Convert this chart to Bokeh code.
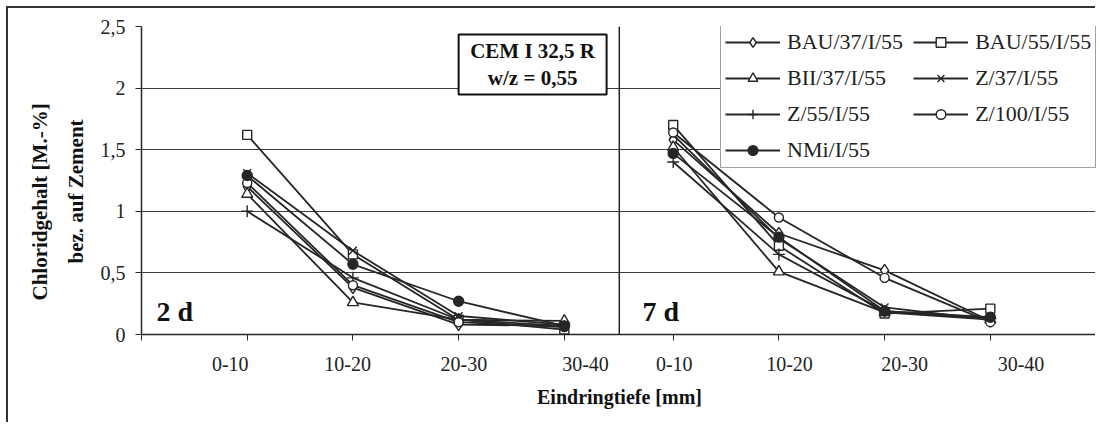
import math
from bokeh.plotting import figure
from bokeh.models import (Range1d, FixedTicker, Legend, LegendItem, Label, Span,
                          BoxAnnotation, Title)
from bokeh.embed import file_html
from bokeh.resources import INLINE

# ---------------- data ----------------
categories = ["0-10", "10-20", "20-30", "30-40"]
panel_names = ["2 d", "7 d"]
series_names = ["BAU/37/I/55", "BAU/55/I/55", "BII/37/I/55", "Z/37/I/55",
                "Z/55/I/55", "Z/100/I/55", "NMi/I/55"]

# Chloridgehalt, 2 d
bau37_2d = [1.20, 0.38, 0.08, 0.07]
bau55_2d = [1.62, 0.65, 0.12, 0.04]
bii37_2d = [1.14, 0.26, 0.12, 0.11]
z37_2d = [1.31, 0.68, 0.15, 0.08]
z55_2d = [1.00, 0.46, 0.12, 0.07]
z100_2d = [1.23, 0.40, 0.10, 0.06]
nmi_2d = [1.29, 0.57, 0.27, 0.07]

# Chloridgehalt, 7 d
bau37_7d = [1.58, 0.82, 0.52, 0.11]
bau55_7d = [1.70, 0.72, 0.17, 0.21]
bii37_7d = [1.52, 0.51, 0.18, 0.12]
z37_7d = [1.62, 0.78, 0.22, 0.12]
z55_7d = [1.40, 0.65, 0.19, 0.13]
z100_7d = [1.64, 0.95, 0.46, 0.10]
nmi_7d = [1.47, 0.79, 0.19, 0.14]

y_ticks = [0, 0.5, 1.0, 1.5, 2.0, 2.5]
y_tick_labels = ["0", "0,5", "1", "1,5", "2", "2,5"]

# ---------------- layout constants ----------------
LEFT_START = 1.0          # first category of the 2 d panel
RIGHT_START = 5.03        # first category of the 7 d panel
SEPARATOR = 4.52
X_END = 9.044
LEFT_LABEL_X = [0.84, 1.95, 3.05, 4.20]
RIGHT_LABEL_X = [5.04, 6.13, 7.22, 8.32]

INK = "#262626"
SERIF = "Liberation Serif"

left_x = [LEFT_START + i for i in range(len(categories))]
right_x = [RIGHT_START + i for i in range(len(categories))]
xs = left_x + [float("nan")] + right_x

data_2d = [bau37_2d, bau55_2d, bii37_2d, z37_2d, z55_2d, z100_2d, nmi_2d]
data_7d = [bau37_7d, bau55_7d, bii37_7d, z37_7d, z55_7d, z100_7d, nmi_7d]
markers = ["diamond", "square", "triangle", "x", "cross", "circle", "circle"]
sizes = [12, 9, 11, 11, 12, 9, 10]
fills = ["white"] * 6 + [INK]

p = figure(width=1089, height=416, output_backend="svg", toolbar_location=None,
           x_range=Range1d(0, X_END), y_range=Range1d(0, 2.5),
           min_border_left=133, min_border_right=0, min_border_top=18,
           min_border_bottom=90)
p.styles = {"border-left": "2px solid #333", "border-top": "2px solid #333",
            "margin-left": "6px", "margin-top": "6px"}
p.outline_line_color = None
p.background_fill_color = "white"

# grid
p.xgrid.visible = False
p.ygrid.ticker = FixedTicker(ticks=y_ticks)
p.ygrid.grid_line_color = "#3a3a3a"
p.ygrid.grid_line_width = 1

# y axis
p.yaxis.ticker = FixedTicker(ticks=y_ticks)
p.yaxis.major_label_overrides = {t: l for t, l in zip(y_ticks, y_tick_labels)}
p.yaxis.major_label_text_font = SERIF
p.yaxis.major_label_text_font_size = "20px"
p.yaxis.major_label_text_color = "#222"
p.yaxis.major_tick_out = 6
p.yaxis.major_tick_in = 0
p.yaxis.minor_tick_out = 0
p.yaxis.minor_tick_in = 0
p.yaxis.major_label_standoff = 10
p.yaxis.axis_line_color = INK
p.yaxis.axis_line_width = 1.5
p.yaxis.major_tick_line_color = INK

# x axis
label_pos = LEFT_LABEL_X + RIGHT_LABEL_X
tick_pos = [0.0] + left_x + right_x + [RIGHT_START + len(categories)]
p.xaxis.ticker = FixedTicker(ticks=label_pos, minor_ticks=tick_pos)
p.xaxis.major_label_overrides = {x: c for x, c in zip(label_pos, categories + categories)}
p.xaxis.major_label_text_font = SERIF
p.xaxis.major_label_text_font_size = "20px"
p.xaxis.major_label_text_color = "#222"
p.xaxis.major_tick_out = 0
p.xaxis.major_tick_in = 0
p.xaxis.minor_tick_out = 6
p.xaxis.minor_tick_in = 0
p.xaxis.minor_tick_line_color = INK
p.xaxis.major_label_standoff = 16
p.xaxis.axis_line_color = INK
p.xaxis.axis_line_width = 1.5
p.xaxis.axis_label = "Eindringtiefe [mm]"
p.xaxis.axis_label_text_font = SERIF
p.xaxis.axis_label_text_font_style = "bold"
p.xaxis.axis_label_text_font_size = "20px"
p.xaxis.axis_label_text_color = "#111"
p.xaxis.axis_label_standoff = 12

# y axis title, two lines (inner line first)
p.add_layout(Title(text="bez. auf Zement", align="left", offset=71,
                   text_font=SERIF, text_font_style="bold", text_font_size="21px",
                   text_color="#111", standoff=20), "left")
p.add_layout(Title(text="Chloridgehalt [M.-%]", align="left", offset=34,
                   text_font=SERIF, text_font_style="bold", text_font_size="21px",
                   text_color="#111", standoff=0), "left")

# separator between panels
p.add_layout(Span(location=SEPARATOR, dimension="height", line_color=INK, line_width=1.5))

items = []
for name, d2, d7, m, s, f in zip(series_names, data_2d, data_7d, markers, sizes, fills):
    ys = d2 + [float("nan")] + d7
    lr = p.line(xs, ys, line_color=INK, line_width=1.8)
    sr = p.scatter(xs, ys, marker=m, size=s, line_color=INK, line_width=1.4,
                   fill_color=f)
    items.append(LegendItem(label=name, renderers=[lr, sr]))

legend = Legend(items=items, location=(579, 166), orientation="horizontal", ncols=2,
                label_text_font=SERIF, label_text_font_size="22px",
                label_text_color="#222", glyph_width=55, glyph_height=24,
                label_height=24, label_standoff=7, spacing=10, padding=4,
                margin=0, border_line_color="#444", border_line_width=1.3,
                background_fill_color="white", background_fill_alpha=1.0)
p.add_layout(legend)

# info box
p.add_layout(BoxAnnotation(left=3.0, right=4.40, top=2.435, bottom=1.948,
                           fill_color="white", fill_alpha=1.0,
                           line_color="#111", line_alpha=1.0, line_width=2))
p.add_layout(Label(x=3.70, y=2.305, text="CEM I 32,5 R", text_align="center",
                   text_baseline="middle", text_font=SERIF, text_font_style="bold",
                   text_font_size="21px", text_color="#111"))
p.add_layout(Label(x=3.70, y=2.086, text="w/z = 0,55", text_align="center",
                   text_baseline="middle", text_font=SERIF, text_font_style="bold",
                   text_font_size="21px", text_color="#111"))

# panel labels
for px_, name in zip([0.142, 4.74], panel_names):
    p.add_layout(Label(x=px_, y=0.187, text=name, text_align="left",
                       text_baseline="middle", text_font=SERIF,
                       text_font_style="bold", text_font_size="28px",
                       text_color="#111"))

open("out.html", "w").write(file_html(p, INLINE))
